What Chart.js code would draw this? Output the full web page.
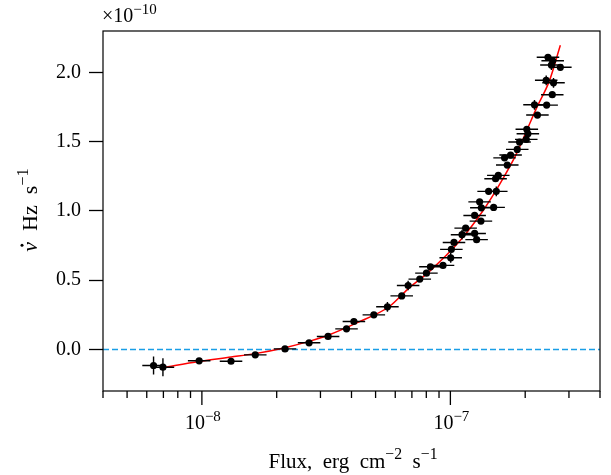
<!DOCTYPE html>
<html>
<head>
<meta charset="utf-8">
<script src="https://cdn.jsdelivr.net/npm/chart.js@4.4.0/dist/chart.umd.min.js"></script>
<style>
  html, body { margin: 0; padding: 0; background: #fff; }
  #wrap { width: 611px; height: 475px; }
</style>
</head>
<body>
<div id="wrap"><canvas id="chart" width="611" height="475"></canvas></div>
<script>
// flux in erg cm^-2 s^-1, spin-up rate in units of 1e-10 Hz/s
const fluxVals = [
    6.39e-9, 6.97e-9, 9.75e-9, 1.31e-8, 1.64e-8, 2.16e-8, 2.70e-8, 3.22e-8, 3.82e-8, 4.09e-8,
    4.92e-8, 5.58e-8, 6.37e-8, 6.76e-8, 7.53e-8, 8.01e-8, 8.31e-8, 9.34e-8, 1.003e-7, 1.009e-7,
    1.034e-7, 1.114e-7, 1.152e-7, 1.252e-7, 1.275e-7, 1.252e-7, 1.327e-7, 1.332e-7, 1.311e-7, 1.493e-7,
    1.425e-7, 1.530e-7, 1.520e-7, 1.559e-7, 1.694e-7, 1.652e-7, 1.747e-7, 1.858e-7, 1.898e-7, 2.02e-7,
    2.05e-7, 2.03e-7, 2.24e-7, 2.18e-7, 2.44e-7, 2.57e-7, 2.60e-7, 2.43e-7, 2.55e-7, 2.77e-7,
    2.58e-7, 2.47e-7
];
const nuDotVals = [
    -0.116, -0.128, -0.082, -0.085, -0.039, 0.004, 0.048, 0.094, 0.149, 0.202,
    0.250, 0.308, 0.387, 0.462, 0.508, 0.551, 0.597, 0.607, 0.662, 0.723,
    0.773, 0.829, 0.876, 0.838, 0.793, 0.968, 0.927, 1.023, 1.066, 1.026,
    1.142, 1.142, 1.233, 1.257, 1.332, 1.384, 1.404, 1.445, 1.498, 1.517,
    1.558, 1.590, 1.693, 1.767, 1.765, 1.840, 1.926, 1.944, 2.054, 2.038,
    2.085, 2.110
];
const nuDotErr = [
    0.065, 0.065, 0.02, 0.02, 0.02, 0.02, 0.02, 0.02, 0.02, 0.02,
    0.02, 0.035, 0.02, 0.035, 0.02, 0.02, 0.02, 0.02, 0.035, 0.02,
    0.02, 0.035, 0.02, 0.02, 0.02, 0.02, 0.02, 0.02, 0.02, 0.02,
    0.02, 0.035, 0.02, 0.02, 0.02, 0.02, 0.02, 0.02, 0.02, 0.02,
    0.02, 0.02, 0.02, 0.035, 0.02, 0.02, 0.035, 0.035, 0.035, 0.02,
    0.02, 0.02
];
const FLUX_ERR_FACTOR = 1.11;

// model curve (red)
const fitFlux = [6.97e-9, 9.75e-9, 1.311e-8, 1.637e-8, 2.16e-8, 2.72e-8, 3.22e-8, 4.20e-8, 5.70e-8, 6.74e-8,
    8.26e-8, 1.09e-7, 1.35e-7, 1.58e-7, 1.85e-7, 2.08e-7, 2.24e-7, 2.50e-7, 2.77e-7];
const fitNuDot = [-0.131, -0.087, -0.055, -0.030, 0.013, 0.060, 0.103, 0.192, 0.312, 0.436,
    0.566, 0.783, 1.000, 1.194, 1.418, 1.627, 1.757, 1.938, 2.197];

const xMin = 4e-9, xMax = 4e-7;
const yMin = -0.3, yMax = 2.3;
const yTicks = [0, 0.5, 1.0, 1.5, 2.0];
const xMajorTicks = [1e-8, 1e-7];
const xMajorLabels = ["−8", "−7"];
const xMinorTicks = [4e-9, 5e-9, 6e-9, 7e-9, 8e-9, 9e-9, 2e-8, 3e-8, 4e-8, 5e-8, 6e-8, 7e-8, 8e-8, 9e-8, 2e-7, 3e-7, 4e-7];

const SERIF = '"Liberation Serif", "Times New Roman", serif';

// draw text made of [text, isSuperscript, italic] pieces, returns start x of each piece
function drawRich(ctx, parts, x, y, size, align) {
    const supSize = size * 0.75;
    const fontOf = p => `${p[2] ? 'italic ' : ''}${p[1] ? supSize : size}px ${SERIF}`;
    let w = 0;
    parts.forEach(p => { ctx.font = fontOf(p); w += ctx.measureText(p[0]).width; });
    let cx = align === 'center' ? x - w / 2 : (align === 'right' ? x - w : x);
    const starts = [];
    ctx.textAlign = 'left';
    ctx.textBaseline = 'alphabetic';
    parts.forEach(p => {
        ctx.font = fontOf(p);
        starts.push(cx);
        ctx.fillText(p[0], cx, p[1] ? y - size * 0.42 : y);
        cx += ctx.measureText(p[0]).width;
    });
    return starts;
}

const errorBars = {
    id: 'errorBars',
    beforeDatasetDraw(chart, args) {
        if (args.index !== 0) return;
        const { ctx, scales: { x, y } } = chart;
        ctx.save();
        ctx.strokeStyle = '#000';
        ctx.lineWidth = 1.4;
        fluxVals.forEach((f, i) => {
            const px = x.getPixelForValue(f), py = y.getPixelForValue(nuDotVals[i]);
            ctx.beginPath();
            ctx.moveTo(x.getPixelForValue(f / FLUX_ERR_FACTOR), py);
            ctx.lineTo(x.getPixelForValue(f * FLUX_ERR_FACTOR), py);
            ctx.moveTo(px, y.getPixelForValue(nuDotVals[i] - nuDotErr[i]));
            ctx.lineTo(px, y.getPixelForValue(nuDotVals[i] + nuDotErr[i]));
            ctx.stroke();
        });
        ctx.restore();
    }
};

const frameAndLabels = {
    id: 'frameAndLabels',
    afterDraw(chart) {
        const { ctx, chartArea: a, scales: { x } } = chart;
        ctx.save();
        ctx.strokeStyle = '#000';
        ctx.lineWidth = 1.2;
        ctx.strokeRect(a.left, a.top, a.right - a.left, a.bottom - a.top);

        // x ticks, log axis
        ctx.lineWidth = 1.3;
        ctx.beginPath();
        xMinorTicks.forEach(v => {
            const px = x.getPixelForValue(v);
            ctx.moveTo(px, a.bottom); ctx.lineTo(px, a.bottom + 7);
        });
        xMajorTicks.forEach(v => {
            const px = x.getPixelForValue(v);
            ctx.moveTo(px, a.bottom); ctx.lineTo(px, a.bottom + 14);
        });
        ctx.stroke();

        ctx.fillStyle = '#000';
        xMajorTicks.forEach((v, i) => {
            drawRich(ctx, [["10", false], [xMajorLabels[i], true]], x.getPixelForValue(v) + 1, 429, 20, 'center');
        });

        drawRich(ctx, [["Flux,  erg  cm", false], ["−2", true], ["  s", false], ["−1", true]], 353, 468, 21, 'center');

        // y title, with a dot over nu
        ctx.save();
        ctx.translate(37, 210);
        ctx.rotate(-Math.PI / 2);
        const st = drawRich(ctx, [["ν", false, true], ["  Hz  s", false], ["−1", true]], 0, 0, 22, 'center');
        ctx.beginPath();
        ctx.arc(st[0] + 6.5, -15, 1.5, 0, Math.PI * 2);
        ctx.fill();
        ctx.restore();

        drawRich(ctx, [["×10", false], ["−10", true]], a.left - 1, 22, 20, 'left');
        ctx.restore();
    }
};

new Chart(document.getElementById('chart'), {
    data: {
        datasets: [
            {
                type: 'scatter',
                data: fluxVals.map((f, i) => ({ x: f, y: nuDotVals[i] })),
                backgroundColor: '#000',
                borderColor: '#000',
                pointRadius: 3.6,
                pointBorderWidth: 0
            },
            {
                type: 'line',
                data: fitFlux.map((f, i) => ({ x: f, y: fitNuDot[i] })),
                borderColor: '#ff0000',
                borderWidth: 1.5,
                pointRadius: 0,
                cubicInterpolationMode: 'monotone'
            },
            {
                type: 'line',
                data: [{ x: xMin, y: 0 }, { x: xMax, y: 0 }],
                borderColor: '#1a9ee6',
                borderWidth: 1.5,
                borderDash: [6, 3],
                pointRadius: 0
            }
        ]
    },
    options: {
        responsive: false,
        animation: false,
        layout: { padding: { left: 0, right: 11, top: 31, bottom: 84 } },
        plugins: { legend: { display: false }, tooltip: { enabled: false } },
        scales: {
            x: {
                type: 'logarithmic',
                min: xMin,
                max: xMax,
                display: false
            },
            y: {
                type: 'linear',
                min: yMin,
                max: yMax,
                afterBuildTicks: s => { s.ticks = yTicks.map(v => ({ value: v })); },
                afterFit: s => { s.width = 103; },
                border: { display: false },
                grid: { drawOnChartArea: false, tickLength: 14, tickWidth: 1.3, tickColor: '#000' },
                ticks: {
                    color: '#000',
                    padding: 8,
                    font: { family: SERIF, size: 20 },
                    callback: v => v.toFixed(1)
                }
            }
        }
    },
    plugins: [errorBars, frameAndLabels]
});
</script>
</body>
</html>
